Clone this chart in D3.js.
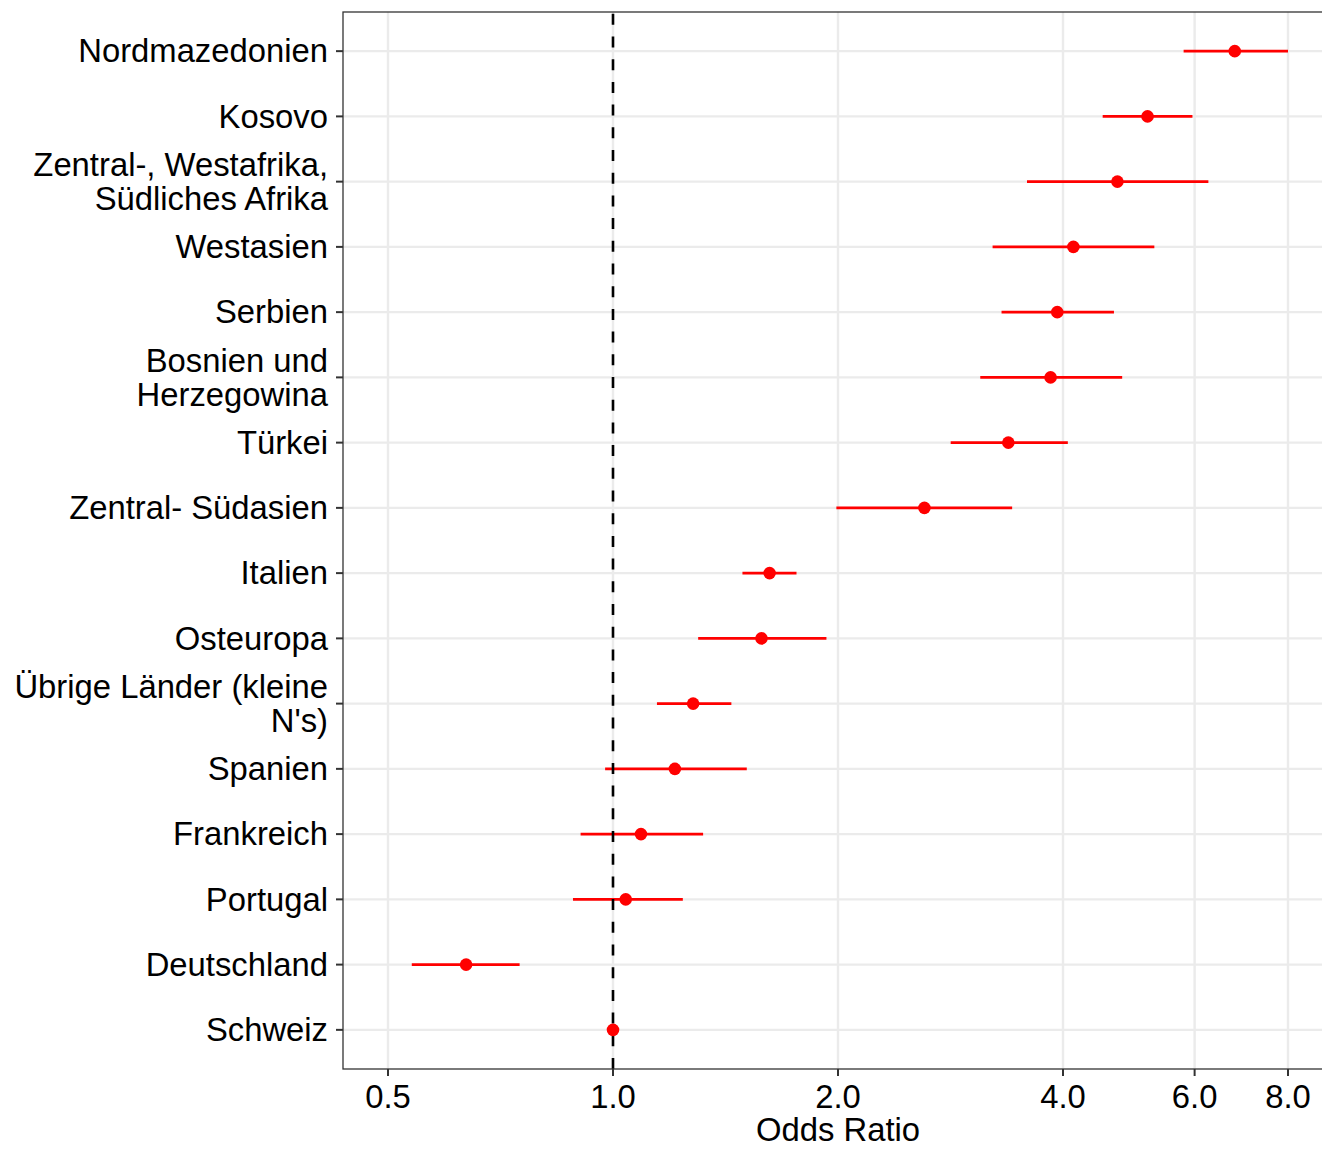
<!DOCTYPE html>
<meta charset="utf-8">
<style>
body { margin:0; background:#fff; }
text { font-family: "Liberation Sans", Arial, Helvetica, sans-serif; fill:#000; }
</style>
<script src="https://d3js.org/d3.v7.min.js"></script>
<body>
<script>

// rows from top to bottom, "\n" marks the wrapped labels
var categories = ["Nordmazedonien","Kosovo","Zentral-, Westafrika,\nSüdliches Afrika","Westasien",
  "Serbien","Bosnien und\nHerzegowina","Türkei","Zentral- Südasien","Italien","Osteuropa",
  "Übrige Länder (kleine\nN's)","Spanien","Frankreich","Portugal","Deutschland","Schweiz"]
var oddsRatio = [6.79,5.19,4.73,4.13,3.93,3.85,3.38,2.61,1.62,1.58,1.28,1.21,1.09,1.04,0.636,1.0]
var ciLow     = [5.80,4.52,3.58,3.22,3.31,3.10,2.83,1.99,1.49,1.30,1.145,0.976,0.905,0.884,0.538,1.0]
var ciHigh    = [8.00,5.96,6.26,5.30,4.68,4.80,4.06,3.42,1.76,1.93,1.44,1.51,1.32,1.24,0.75,1.0]
var xTicks = [0.5,1,2,4,6,8]

var width = 1322, height = 1149
// panel box (right edge lies past the picture, as in the cropped original)
var pLeft = 343, pRight = 1333, pTop = 12, pBottom = 1069
var fs = 32.8

var svg = d3.select("body").append("svg").attr("width",width).attr("height",height)

var x = d3.scaleLog().base(2).domain([Math.pow(2,-1.2), Math.pow(2,3.2)]).range([pLeft,pRight])
var y = d3.scalePoint().domain(categories).range([pTop,pBottom]).padding(0.6)

var rows = categories.map((c,i)=>({cat:c, or:oddsRatio[i], lo:ciLow[i], hi:ciHigh[i]}))

// grid
var grid = svg.append("g")
grid.selectAll(".gx").data(xTicks).enter().append("line")
  .attr("x1",d=>x(d)).attr("x2",d=>x(d)).attr("y1",pTop).attr("y2",pBottom)
  .attr("stroke","#ebebeb").attr("stroke-width",2.4)
grid.selectAll(".gy").data(categories).enter().append("line")
  .attr("x1",pLeft).attr("x2",pRight).attr("y1",d=>y(d)).attr("y2",d=>y(d))
  .attr("stroke","#ebebeb").attr("stroke-width",2.4)

// error bars
svg.append("g").selectAll("line").data(rows).enter().append("line")
  .attr("x1",d=>x(d.lo)).attr("x2",d=>x(d.hi))
  .attr("y1",d=>y(d.cat)).attr("y2",d=>y(d.cat))
  .attr("stroke","#ff0000").attr("stroke-width",2.8)

// reference line at 1, drawn from the bottom like R does
svg.append("line")
  .attr("x1",x(1)).attr("x2",x(1)).attr("y1",pBottom).attr("y2",pTop)
  .attr("stroke","#000").attr("stroke-width",2.6)
  .attr("stroke-dasharray","11,11.7")

// points
svg.append("g").selectAll("circle").data(rows).enter().append("circle")
  .attr("cx",d=>x(d.or)).attr("cy",d=>y(d.cat)).attr("r",6.3)
  .attr("fill","#ff0000")

// panel border
svg.append("rect").attr("x",pLeft).attr("y",pTop)
  .attr("width",pRight-pLeft).attr("height",pBottom-pTop)
  .attr("fill","none").attr("stroke","#333333").attr("stroke-width",1.3)

// y axis ticks + labels
var ya = svg.append("g")
ya.selectAll("line").data(categories).enter().append("line")
  .attr("x1",pLeft-7).attr("x2",pLeft).attr("y1",d=>y(d)).attr("y2",d=>y(d))
  .attr("stroke","#333333").attr("stroke-width",2)
var lh = 34
ya.selectAll("text").data(categories).enter().append("text")
  .attr("text-anchor","end")
  .style("font-size",fs+"px")
  .each(function(d){
    var lines = d.split("\n")
    var t = d3.select(this)
    var cap = 0.345*fs
    var first = y(d) + cap - (lines.length-1)*lh/2
    lines.forEach((l,i)=>{
      t.append("tspan").attr("x",328).attr("y",first+i*lh).text(l)
    })
  })

// x axis ticks + labels
var xa = svg.append("g")
xa.selectAll("line").data(xTicks).enter().append("line")
  .attr("x1",d=>x(d)).attr("x2",d=>x(d)).attr("y1",pBottom).attr("y2",pBottom+7)
  .attr("stroke","#333333").attr("stroke-width",2)
xa.selectAll("text").data(xTicks).enter().append("text")
  .attr("x",d=>x(d)).attr("y",1107.5)
  .attr("text-anchor","middle").style("font-size",fs+"px")
  .text(d=>d3.format(".1f")(d))

svg.append("text")
  .attr("x",(pLeft+pRight)/2).attr("y",1141)
  .attr("text-anchor","middle").style("font-size",fs+"px")
  .text("Odds Ratio")

</script>
